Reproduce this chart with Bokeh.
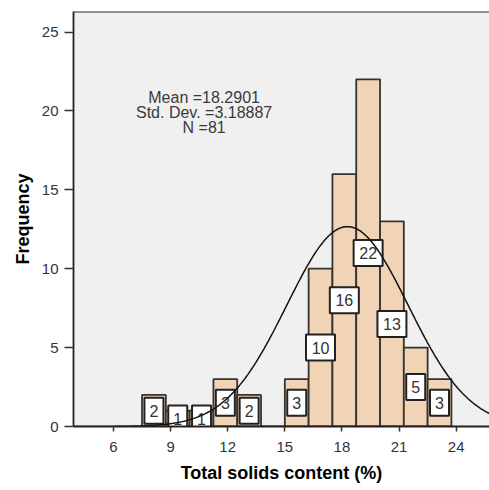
import numpy as np
from bokeh.plotting import figure
from bokeh.models import FixedTicker, Label, Span, ColumnDataSource, Range1d
from bokeh.core.properties import value
from bokeh.embed import file_html
from bokeh.resources import INLINE

# ---- data ----
bin_left = [7.5, 8.75, 10.0, 11.25, 12.5, 13.75, 15.0, 16.25, 17.5, 18.75, 20.0, 21.25, 22.5]
bin_width = 1.25
counts = [2, 1, 1, 3, 2, 0, 3, 10, 16, 22, 13, 5, 3]
mean_val = 18.2901
std_val = 3.18887
n_val = 81
x_ticks = [6, 9, 12, 15, 18, 21, 24]
y_ticks = [0, 5, 10, 15, 20, 25]
stats_lines = ["Mean =18.2901", "Std. Dev. =3.18887", "N =81"]

FONT = "Liberation Sans"
X0, X1 = 3.9, 25.75
Y0, Y1 = 0, 26.3

p = figure(width=489, height=490, output_backend="svg", toolbar_location=None,
           x_range=Range1d(X0, X1), y_range=Range1d(Y0, Y1),
           min_border_left=73, min_border_right=0, min_border_top=11, min_border_bottom=64)
p.background_fill_color = "#f0f0f0"
p.border_fill_color = "white"
p.outline_line_color = None
p.grid.visible = False

bar_src = ColumnDataSource(dict(
    left=bin_left,
    right=[b + bin_width for b in bin_left],
    top=counts,
))
p.quad(left="left", right="right", bottom=0, top="top", source=bar_src,
       fill_color="#f1d3b5", line_color="#333333", line_width=1.8)

# value labels
lx, ly, lt, lw = [], [], [], []
for b, c in zip(bin_left, counts):
    if c > 0:
        lx.append(b + bin_width / 2)
        ly.append(c / 2)
        lt.append(str(c))
        lw.append(19 if c < 10 else 29)
lab_src = ColumnDataSource(dict(x=lx, y=ly, t=lt, w=lw))
p.rect(x="x", y="y", width="w", height=26, width_units="screen", height_units="screen",
       source=lab_src, fill_color="white", line_color="#222222", line_width=2)
p.text(x="x", y="y", text="t", source=lab_src, text_align="center", text_baseline="middle",
       text_font=value(FONT), text_font_size="16px", text_color="#333333")

# normal curve
xs = np.linspace(X0, X1, 400)
ys = n_val * bin_width * np.exp(-0.5 * ((xs - mean_val) / std_val) ** 2) / (std_val * np.sqrt(2 * np.pi))
p.line(xs, ys, line_color="#111111", line_width=1.5)

# stats text
for i, s in enumerate(stats_lines):
    p.add_layout(Label(x=10.76, y=20.86, x_offset=0, y_offset=-15 * i, text=s,
                       text_align="center", text_baseline="middle",
                       text_font=FONT, text_font_size="16px", text_color="#3a3a3a"))

# top border
p.add_layout(Span(location=Y1, dimension="width", line_color="#333333", line_width=2))

# axes
for ax in (p.xaxis[0], p.yaxis[0]):
    ax.axis_line_color = "#222222"
    ax.axis_line_width = 1.8
    ax.major_tick_line_color = "#333333"
    ax.major_tick_line_width = 1.5
    ax.major_tick_in = 0
    ax.minor_tick_line_color = None
    ax.major_label_text_font = FONT
    ax.major_label_text_font_size = "15px"
    ax.major_label_text_color = "#333333"
    ax.axis_label_text_font = FONT
    ax.axis_label_text_font_size = "18px"
    ax.axis_label_text_font_style = "bold"
    ax.axis_label_text_color = "#000000"

p.xaxis.ticker = FixedTicker(ticks=x_ticks)
p.yaxis.ticker = FixedTicker(ticks=y_ticks)
p.xaxis.major_tick_out = 5
p.xaxis.major_label_standoff = 10
p.xaxis.axis_label_standoff = 8
p.xaxis.axis_label = "Total solids content (%)"
p.yaxis.major_tick_out = 9
p.yaxis.major_label_standoff = 6
p.yaxis.axis_label_standoff = 6
p.yaxis.axis_label = "Frequency"

open("out.html", "w").write(file_html(p, INLINE))
